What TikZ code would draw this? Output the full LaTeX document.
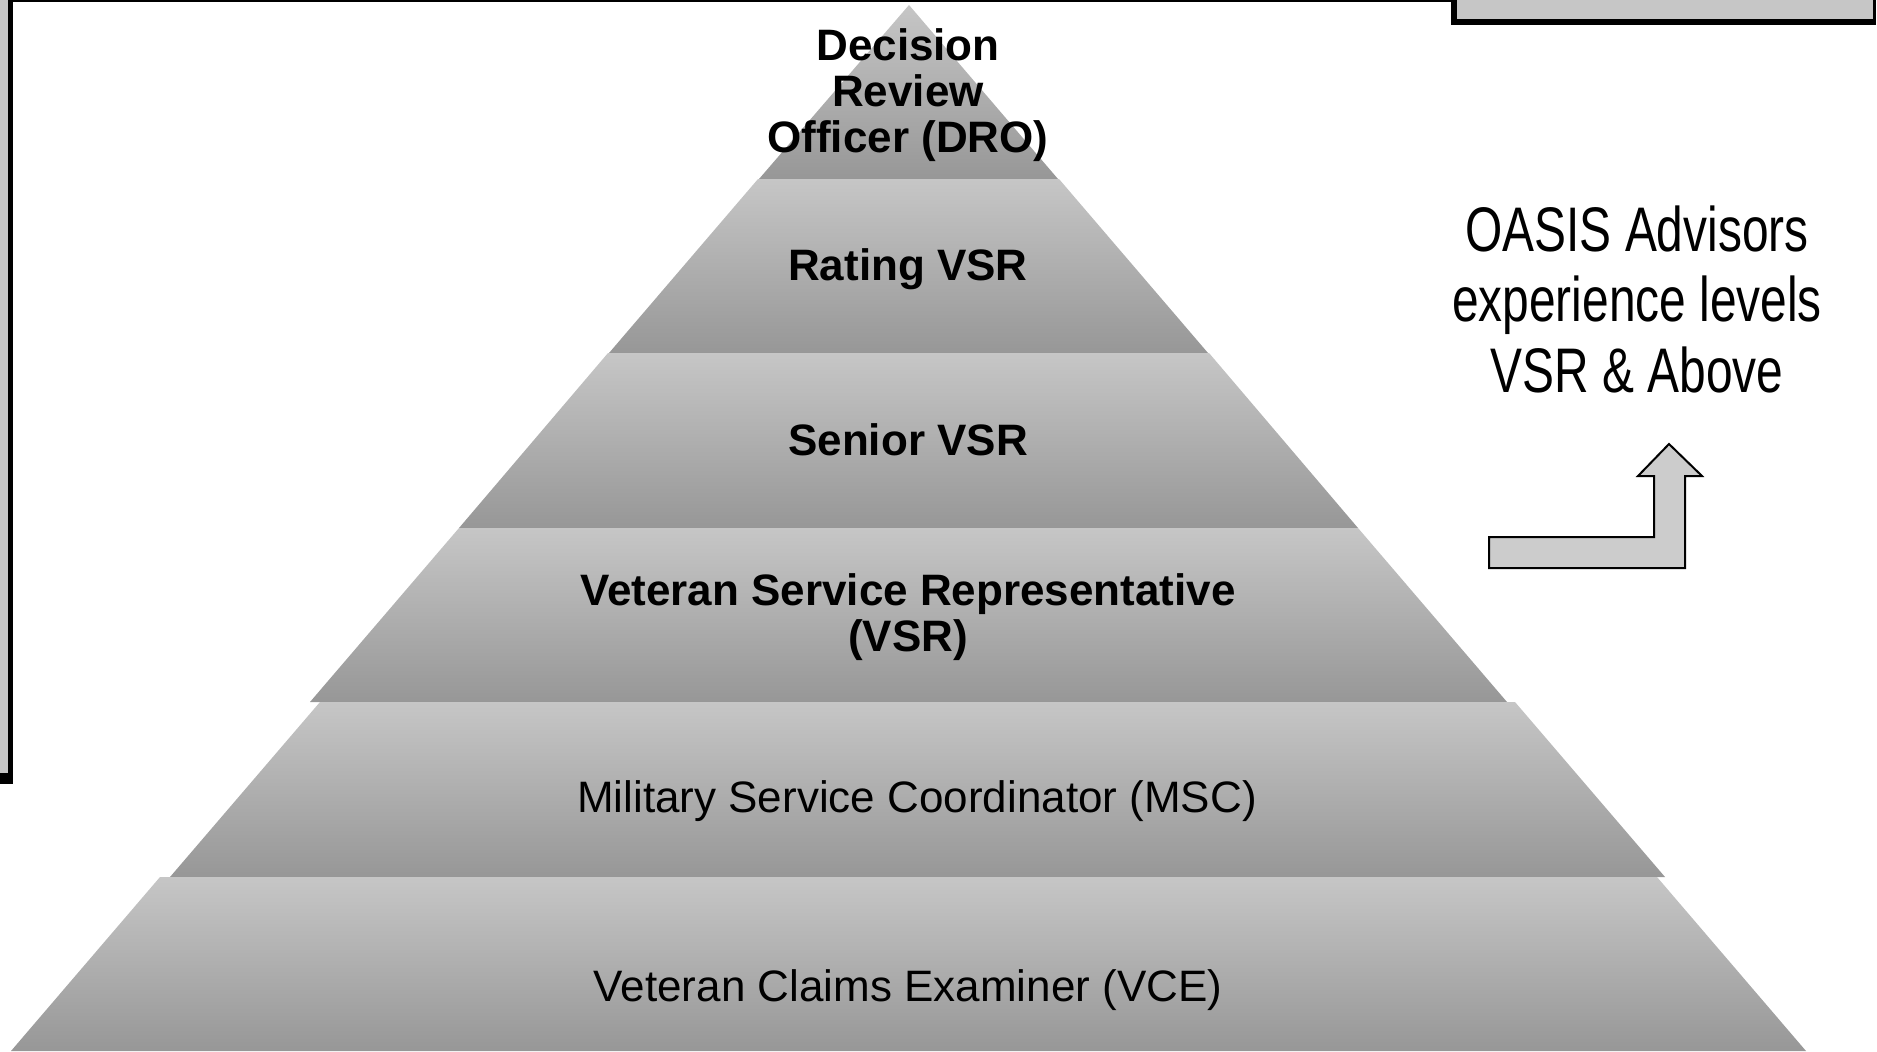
\documentclass[tikz,border=0pt]{standalone}
\usepackage{fontspec}
\setmainfont{Liberation Sans}
\newfontfamily\narrowfont[FakeStretch=0.76]{Liberation Sans}
\definecolor{layertop}{HTML}{C6C6C6}
\definecolor{layerbot}{HTML}{979797}
\definecolor{boxgray}{HTML}{C6C6C6}
\definecolor{arrowgray}{HTML}{CCCCCC}
\begin{document}
\begin{tikzpicture}[x=1pt,y=-1pt,
  layer/.style={top color=layertop,bottom color=layerbot,draw=none},
  boldlbl/.style={font=\fontsize{44}{46}\selectfont\bfseries,align=center,inner sep=0pt},
  reglbl/.style={font=\fontsize{44}{44}\selectfont,inner sep=0pt},
  sidelbl/.style={font=\narrowfont\fontsize{63}{70.5}\selectfont,align=center,inner sep=0pt},
  bigarrow/.style={draw=black,line width=2pt,fill=arrowgray,line join=miter}]
\useasboundingbox (0,0) rectangle (1877,1052);
% left framed box (cut off)
\fill[black] (-5,-5) rectangle (13,784);
\fill[boxgray] (-5,-5) rectangle (8,773);
% top rule
\draw[line width=1.5pt] (13,0.75) -- (1451,0.75);
% top-right framed box (cut off)
\fill[black] (1451,-5) rectangle (1876,25);
\fill[boxgray] (1457,-5) rectangle (1873,19);
% pyramid layers
\shade[layer] (909,5) -- (1058,179) -- (759,179) -- cycle;
\shade[layer] (758,179) -- (1059,179) -- (1208,353) -- (609,353) -- cycle;
\shade[layer] (608,353) -- (1209,353) -- (1358,528) -- (459,528) -- cycle;
\shade[layer] (459,528) -- (1358,528) -- (1507,702) -- (310,702) -- cycle;
\shade[layer] (320,702) -- (1515,702) -- (1665,877) -- (170,877) -- cycle;
\shade[layer] (160,877) -- (1657,877) -- (1806,1051) -- (11,1051) -- cycle;
% labels
\node[boldlbl] (dro) at (908,95) {Decision\\Review\\Officer (DRO)};
\node[boldlbl] (rating) at (908,269) {Rating VSR};
\node[boldlbl] (senior) at (908,440) {Senior VSR};
\node[boldlbl] (vsr) at (908,617) {Veteran Service Representative\\(VSR)};
\node[reglbl] (msc) at (917,801) {Military Service Coordinator (MSC)};
\node[reglbl] (vce) at (908,990) {Veteran Claims Examiner (VCE)};
\node[sidelbl] (oasis) at (1637,299) {OASIS Advisors\\experience levels\\VSR \& Above};
% bent arrow
\draw[bigarrow] (1489,537) -- (1654,537) -- (1654,476) -- (1638,476) -- (1669,444)
  -- (1702,476) -- (1685,476) -- (1685,568) -- (1489,568) -- cycle;
\end{tikzpicture}
\end{document}
